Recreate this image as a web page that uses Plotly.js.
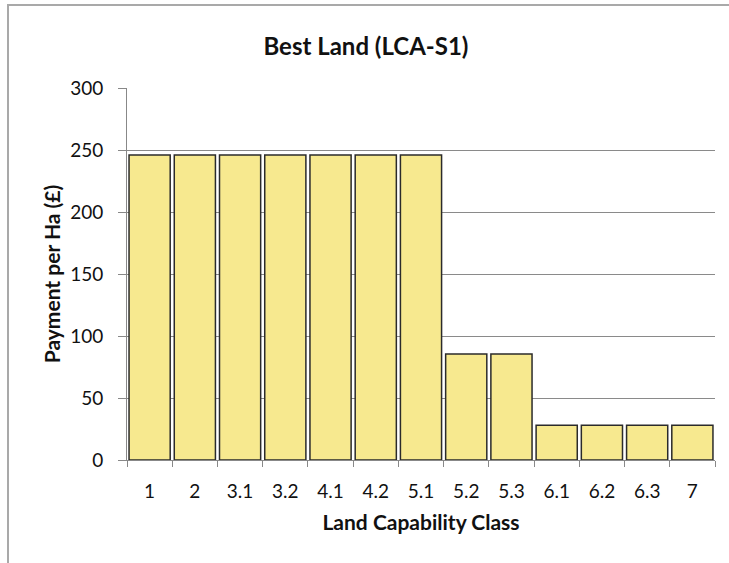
<!DOCTYPE html>
<html>
<head>
<meta charset="utf-8">
<script src="https://cdn.plot.ly/plotly-3.0.1.min.js"></script>
<style>
  body { margin: 0; background: #fff; overflow: hidden; }
  #wrap { position: relative; width: 729px; height: 563px; overflow: hidden; }
  #chart { position: absolute; left: 0; top: 0; width: 729px; height: 563px; }
  #frame { position: absolute; left: 7px; top: 4px; width: 722px; height: 559px;
           border-left: 2px solid #a9a9a9; border-top: 2px solid #a9a9a9; pointer-events: none; }
</style>
</head>
<body>
<div id="wrap">
  <div id="chart"></div>
  <div id="frame"></div>
</div>
<script>
var classes = ['1', '2', '3.1', '3.2', '4.1', '4.2', '5.1', '5.2', '5.3', '6.1', '6.2', '6.3', '7'];
var payment = [246, 246, 246, 246, 246, 246, 246, 85.5, 85.5, 28, 28, 28, 28];
var yTicks = [0, 50, 100, 150, 200, 250, 300];

var font = 'Lato, "Open Sans", sans-serif';

var data = [{
    x: classes,
    y: payment,
    type: 'bar',
    marker: {
        color: '#f7e98f',
        line: { color: '#2b2b2b', width: 1.5 }
    },
    hoverinfo: 'x+y'
}];

var layout = {
    width: 729,
    height: 563,
    margin: { l: 127, r: 14, t: 88, b: 103 },
    paper_bgcolor: 'rgba(0,0,0,0)',
    plot_bgcolor: 'rgba(0,0,0,0)',
    showlegend: false,
    bargap: 0.09,
    font: { family: font, color: '#111' },
    title: {
        text: '<b>Best Land (LCA-S1)</b>',
        font: { size: 24, family: font, color: '#111' },
        x: 0.502,
        xanchor: 'center',
        y: 0.917,
        yanchor: 'middle'
    },
    xaxis: {
        type: 'category',
        tickson: 'boundaries',
        ticks: 'outside',
        ticklen: 6,
        tickcolor: '#888',
        showline: true,
        linecolor: '#888',
        linewidth: 1,
        showgrid: false,
        tickfont: { size: 19, family: font },
        ticklabelstandoff: 14,
        title: {
            text: '<b>Land Capability Class</b>',
            font: { size: 21, family: font },
            standoff: 14
        }
    },
    yaxis: {
        range: [0, 300],
        tickvals: yTicks,
        ticks: 'outside',
        ticklen: 8,
        tickcolor: '#888',
        showline: true,
        linecolor: '#888',
        linewidth: 1,
        showgrid: true,
        gridcolor: '#8a8a8a',
        gridwidth: 1,
        zeroline: false,
        tickfont: { size: 19, family: font },
        ticklabelstandoff: 11,
        title: {
            text: '<b>Payment per Ha (£)</b>',
            font: { size: 21, family: font },
            standoff: 3
        }
    }
};

Plotly.newPlot('chart', data, layout, { displayModeBar: false, staticPlot: true });
</script>
</body>
</html>
